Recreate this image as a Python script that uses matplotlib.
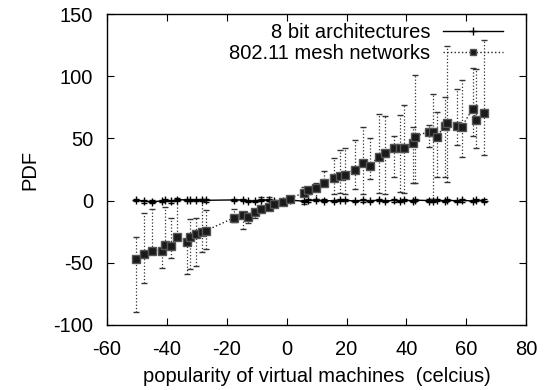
import matplotlib
matplotlib.use("Agg")
from matplotlib import pyplot as plt
from matplotlib.lines import Line2D
import numpy as np

plt.rcParams['font.family'] = ['Liberation Sans', 'DejaVu Sans']
plt.rcParams['axes.unicode_minus'] = False

# x values shared by both series
temps = [-50.2, -47.5, -44.8, -41.5, -40.5, -38.5, -36.5, -33.4, -32.4, -30.1,
         -28.4, -26.8, -17.4, -14.7, -13.0, -10.7, -8.4, -6.0, -4.3, -1.3,
         1.3, 5.7, 7.0, 9.7, 12.4, 15.7, 17.7, 19.4, 22.7, 25.4,
         27.8, 30.8, 32.8, 35.8, 37.8, 39.1, 42.1, 42.8, 47.5, 48.8,
         50.2, 52.8, 53.5, 56.9, 58.5, 62.2, 63.2, 65.9]

# 8 bit architectures
arch_y = [0.5, -0.6, -0.8, -0.4, 0.6, -0.7, 0.8, 0.5, 0.3, 0.6,
          0.4, 0.2, 0.5, 0.6, -0.5, -0.3, 0.4, 0.6, -0.2, 0.0,
          0.3, -0.5, 0.2, 0.4, 0.0, -0.2, 0.5, 0.3, -0.4, 0.2,
          -0.3, 0.4, -0.5, 0.2, -0.3, 0.5, -0.2, 0.3, 0.0, -0.4,
          0.3, -0.2, 0.4, -0.3, 0.2, -0.4, 0.3, 0.0]
arch_err = [1.0] * len(temps)

# 802.11 mesh networks
mesh_y = [-47.4, -42.6, -40.2, -40.2, -35.4, -36.2, -29.7, -33.0, -29.0, -27.3,
          -25.7, -24.1, -13.7, -12.0, -12.9, -9.6, -7.2, -4.8, -2.4, -0.8,
          1.6, 6.4, 8.8, 10.4, 14.5, 18.5, 20.1, 20.9, 24.9, 30.5,
          28.1, 35.4, 38.6, 42.6, 42.6, 42.6, 46.6, 51.4, 55.5, 55.5,
          51.4, 60.3, 62.7, 60.3, 59.5, 74.0, 65.1, 70.7]
mesh_lo = [-90, -66, -42, -54, -37, -46, -30, -59, -55, -53,
           -41, -39, -17, -23, -18, -14, -9, -8, -4, -2,
           0, -3, 5, 1, 12, 5, 6, 5, 9, 5,
           17, 6, 5, 19, 7, 6, 14, 14, 43, 1,
           19, 19, 15, 45, 35, 52, 42, 37]
mesh_hi = [-29, -10, -7, -38, -5, -14, 1, -33, -15, -14,
           1, -8, -7, -9, -10, -8, 3, 3, 0, 0.5,
           3, 11, 11, 14, 24, 34, 41, 42, 49, 59,
           50, 70, 68, 52, 69, 77, 59, 101, 61, 86,
           71, 83, 124, 90, 97, 107, 106, 129]

mesh_y = np.array(mesh_y)
yerr = [np.clip(mesh_y - np.array(mesh_lo), 0, None),
        np.clip(np.array(mesh_hi) - mesh_y, 0, None)]

fs = 14.5
fig = plt.figure(figsize=(5.51, 3.90), dpi=100)
ax = fig.add_axes([0.194, 0.167, 0.761, 0.797])

ax.errorbar(temps, arch_y, yerr=arch_err, fmt='-', marker='+', color='black',
            lw=1, ms=6, mew=1, capsize=2, elinewidth=0.8)
e2 = ax.errorbar(temps, mesh_y, yerr=yerr, fmt=':', marker='s', color='#222222',
                 lw=1, ms=5.5, mec='#555555', mfc='#1a1a1a', capsize=2,
                 elinewidth=0.9, ecolor='#333333')
for c in e2[2]:
    c.set_linestyle(':')

ax.set_xlim(-60, 80)
ax.set_ylim(-100, 150)
ax.set_xticks(range(-60, 81, 20))
ax.set_yticks(range(-100, 151, 50))
ax.tick_params(direction='in', length=5, top=True, right=True, labelsize=fs)
ax.tick_params(axis='y', pad=10)
ax.tick_params(axis='x', pad=11)
for s in ax.spines.values():
    s.set_linewidth(1)

ax.set_xlabel('popularity of virtual machines  (celcius)', fontsize=fs, labelpad=6)
ax.set_ylabel('PDF', fontsize=fs, labelpad=10)

h1 = Line2D([], [], color='black', lw=1, marker='+', ms=6, mew=1)
h2 = Line2D([], [], color='#222222', lw=1, ls=':', marker='s', ms=4,
            mfc='#1a1a1a', mec='#555555')
ax.legend([h1, h2], ['8 bit architectures', '802.11 mesh networks'],
          loc='upper right', bbox_to_anchor=(0.988, 1.03), frameon=False,
          markerfirst=False, fontsize=fs, handlelength=3.0, handletextpad=0.6,
          labelspacing=0.1)

plt.savefig('out.png', dpi=100)
